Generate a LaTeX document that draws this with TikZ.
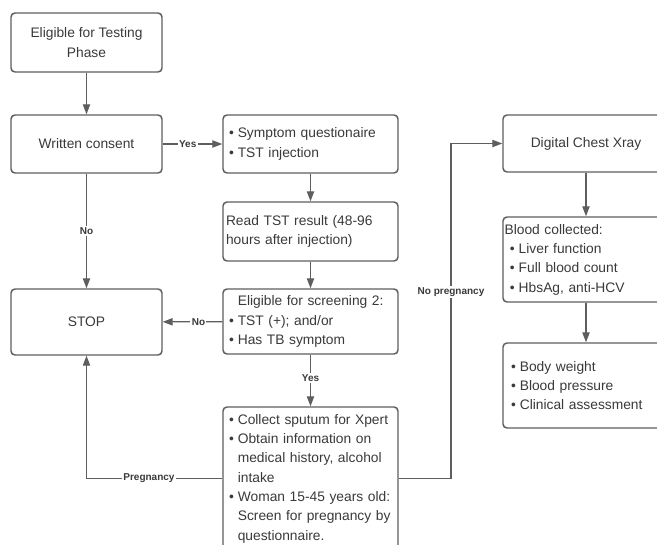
\documentclass[tikz,border=0pt]{standalone}
\usepackage{fontspec}
\setmainfont{Liberation Sans}
\usetikzlibrary{arrows.meta}
\definecolor{ln}{HTML}{5E5E5E}
\definecolor{tx}{HTML}{3A3A3A}
\newcommand\bl{\makebox[6.6pt][l]{•}}
\newcommand\ind{\hspace*{6.6pt}}
\begin{document}
\begin{tikzpicture}[x=0.75pt,y=-0.75pt,
  box/.style={draw=ln,line width=1.1pt,rounded corners=3pt,text=tx,
    font=\fontsize{10.35pt}{14.5pt}\selectfont,inner ysep=0pt},
  cbox/.style={box,align=center,inner xsep=2pt},
  lbox/.style={box,align=left},
  arr/.style={draw=ln,line width=0.9pt,-{Triangle[length=7.5pt,width=5.5pt]}},
  lab/.style={font=\fontsize{7.5pt}{9pt}\selectfont\bfseries,text=tx,fill=white,inner sep=1pt}]
\useasboundingbox (0,0) rectangle (657,544);
\fill[white] (0,0) rectangle (657,544);
\clip (0,0) rectangle (657,544);

\node[cbox,minimum width=113.25pt,minimum height=44.25pt] (elig) at (86.5,42.5) {Eligible for Testing\\Phase};
\node[cbox,minimum width=113.25pt,minimum height=43.5pt] (consent) at (86.5,144) {Written consent};
\node[cbox,minimum width=113.25pt,minimum height=49.5pt] (stop) at (86.5,322) {STOP};

\node[lbox,inner xsep=4.5pt,text width=122.25pt,minimum height=43.5pt] (sympt) at (310.5,144)
  {\bl Symptom questionaire\\\bl TST injection};
\node[lbox,inner xsep=2.25pt,text width=126.75pt,minimum height=44.25pt] (read) at (310.5,231.5)
  {Read TST result (48-96\\hours after injection)};
\node[lbox,inner xsep=4.5pt,text width=122.25pt,minimum height=48.75pt] (screen) at (310.5,321.5)
  {\ind Eligible for screening 2:\\\bl TST (+); and/or\\\bl Has TB symptom};
\node[lbox,inner xsep=4.5pt,text width=122.25pt,minimum height=107.25pt] (collect) at (310.5,478.5)
  {\bl Collect sputum for Xpert\\\bl Obtain information on\\\ind medical history, alcohol\\\ind intake\\\bl Woman 15-45 years old:\\\ind Screen for pregnancy by\\\ind questionnaire.};

\node[cbox,minimum width=124.5pt,minimum height=42.75pt] (dcx) at (586,143.5) {Digital Chest Xray};
\node[lbox,inner xsep=1.2pt,text width=122.1pt,minimum height=63.75pt] (blood) at (586,259.5)
  {Blood collected:\\\hspace*{4pt}\bl Liver function\\\hspace*{4pt}\bl Full blood count\\\hspace*{4pt}\bl HbsAg, anti-HCV};
\node[lbox,inner xsep=6pt,text width=112.5pt,minimum height=63.75pt] (body) at (586,385.5)
  {\bl Body weight\\\bl Blood pressure\\\bl Clinical assessment};

\draw[arr] (elig) -- (consent);
\draw[arr] (consent) -- node[lab,pos=0.42] (lyes1) {Yes} (sympt);
\draw[arr] (consent) -- node[lab] (lno1) {No} (stop);
\draw[arr] (sympt) -- (read);
\draw[arr] (read) -- (screen);
\draw[arr] (screen) -- node[lab,pos=0.4] (lno2) {No} (stop);
\draw[arr] (screen) -- node[lab,pos=0.45] (lyes2) {Yes} (collect);
\draw[arr] (collect.west) -| node[lab,pos=0.27] (lpreg) {Pregnancy} (stop.south);
\coordinate (bend) at (451,292);
\draw[arr] (collect.east) -| (bend) |- (dcx.west);
\node[lab] (lnopreg) at (bend) {No pregnancy};
\draw[arr] (dcx) -- (blood);
\draw[arr] (blood) -- (body);
\end{tikzpicture}
\end{document}
